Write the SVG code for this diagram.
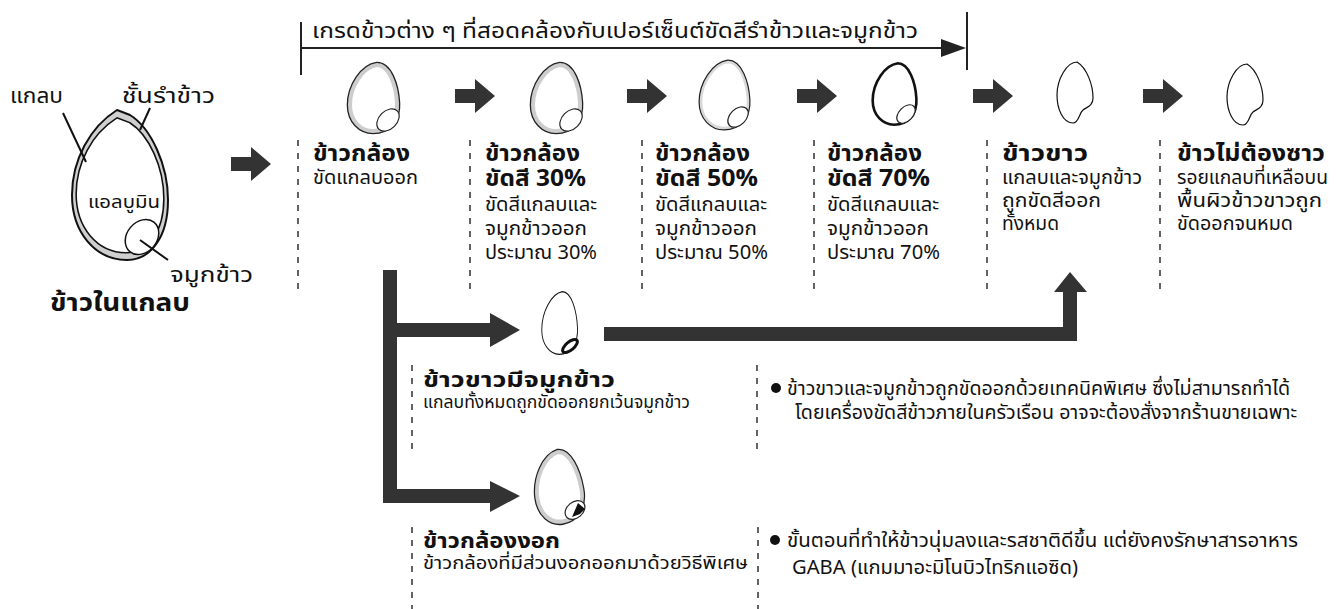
<svg xmlns="http://www.w3.org/2000/svg" width="1344" height="609" viewBox="0 0 1344 609">
  <style>
    text { font-family: "Leelawadee UI", "Noto Sans Thai", "Noto Sans", "DejaVu Sans", sans-serif; fill: #111; }
    .t { font-size: 19px; }
    .s { font-size: 17.5px; }
    .b { font-size: 23px; font-weight: bold; }
    .bs { font-size: 21px; font-weight: bold; }
    .lbl { font-size: 22px; }
    .dash { stroke: #222; stroke-width: 1.4; stroke-dasharray: 6 7; fill: none; }
    .blk { fill: #333; }
    .ringA { fill: none; stroke: #222; stroke-width: 6.6; }
    .ringB { fill: #fff; stroke: #cdcdcd; stroke-width: 4; }
    .germ { fill: #fff; stroke: #222; stroke-width: 1.2; }
    .thin { fill: #fff; stroke: #111; stroke-width: 1.2; }
  </style>
  <defs>
    <!-- egg-shaped grain outline, centred on the origin -->
    <path id="egg" d="M 3,-33 C -11,-31 -24,-12 -24,7 C -24,23 -13,33 -1,33 C 14,33 24,22 23,5 C 22,-13 15,-33 3,-33 Z"/>
    <!-- polished grain with the germ notch removed -->
    <path id="polished" d="M 2,-31 C 12,-25 18,-8 18,5 C 18,13 12,14 8,17 C 4,20 4,30 -2,30 C -12,30 -18,16 -18,2 C -18,-14 -8,-31 2,-31 Z"/>
    <!-- block arrow pointing right, tip at x=40 -->
    <path id="barrow" d="M 0,-7 L 20,-7 L 20,-17 L 40,0 L 20,17 L 20,7 L 0,7 Z"/>
    <!-- whole paddy outline -->
    <path id="husk" d="M 117,110 L 130,115 C 151,128 168,165 168,200 C 168,238 150,260 127,260 C 95,260 72,232 72,195 C 72,160 90,127 117,110 Z"/>
  </defs>

  <!-- grain in husk -->
  <g id="paddy">
    <use href="#husk" fill="#cfcfcf" stroke="#111" stroke-width="2"/>
    <use href="#husk" transform="translate(120,188) scale(0.87) translate(-120,-188)" fill="#fff" stroke="#111" stroke-width="6.6"/>
    <use href="#husk" transform="translate(120,188) scale(0.87) translate(-120,-188)" fill="#fff" stroke="#fff" stroke-width="3"/>
    <ellipse cx="142" cy="237" rx="15" ry="19" transform="rotate(40 142 237)" fill="#fff" stroke="#111" stroke-width="1.5"/>
    <line x1="63" y1="113" x2="86" y2="162" stroke="#111" stroke-width="2"/>
    <line x1="150" y1="108" x2="140" y2="130" stroke="#111" stroke-width="2"/>
    <line x1="140" y1="240" x2="168" y2="260" stroke="#111" stroke-width="2"/>
    <text class="lbl" x="10" y="103" textLength="53" lengthAdjust="spacingAndGlyphs">แกลบ</text>
    <text class="lbl" x="122" y="103" textLength="93" lengthAdjust="spacingAndGlyphs">ชั้นรำข้าว</text>
    <text x="88" y="208" font-size="17" textLength="72" lengthAdjust="spacingAndGlyphs">แอลบูมิน</text>
    <text class="lbl" x="170" y="282" textLength="83" lengthAdjust="spacingAndGlyphs">จมูกข้าว</text>
    <text x="50" y="311" font-size="25" font-weight="bold" textLength="140" lengthAdjust="spacingAndGlyphs">ข้าวในแกลบ</text>
  </g>

  <!-- grading scale bracket -->
  <g id="scale">
    <line x1="301" y1="22" x2="301" y2="75" stroke="#222" stroke-width="2"/>
    <line x1="967" y1="12" x2="967" y2="70" stroke="#222" stroke-width="2"/>
    <line x1="301" y1="48" x2="945" y2="48" stroke="#222" stroke-width="2"/>
    <path d="M 941,39 L 966,48 L 941,57 Z" fill="#222"/>
    <text x="312" y="38" font-size="21" textLength="606" lengthAdjust="spacingAndGlyphs">เกรดข้าวต่าง ๆ ที่สอดคล้องกับเปอร์เซ็นต์ขัดสีรำข้าวและจมูกข้าว</text>
  </g>

  <!-- connectors -->
  <g id="connectors">
    <use href="#barrow" class="blk" transform="translate(231,164)"/>
    <use href="#barrow" class="blk" transform="translate(455,96)"/>
    <use href="#barrow" class="blk" transform="translate(627,96)"/>
    <use href="#barrow" class="blk" transform="translate(797,96)"/>
    <use href="#barrow" class="blk" transform="translate(973,96)"/>
    <use href="#barrow" class="blk" transform="translate(1143,96)"/>
    <!-- branch from brown rice to the two special grades -->
    <path class="blk" d="M 383,270 L 397,270 L 397,323 L 490,323 L 490,313 L 520,330 L 490,347 L 490,337 L 397,337 L 397,489 L 490,489 L 490,481 L 520,496 L 490,512 L 490,503 L 383,503 Z"/>
    <!-- germinated white rice joins the white rice grade -->
    <path class="blk" d="M 604,327 L 1063,327 L 1063,292 L 1054,292 L 1070,272 L 1087,292 L 1077,292 L 1077,341 L 604,341 Z"/>
  </g>

  <!-- brown rice -->
  <g id="brown">
    <use href="#egg" class="ringA" transform="translate(374,98)"/>
    <use href="#egg" class="ringB" transform="translate(374,98)"/>
    <ellipse cx="388" cy="120" rx="9" ry="13" transform="rotate(45 388 120)" class="germ"/>
    <line class="dash" x1="298" y1="140" x2="298" y2="292"/>
    <text class="b" x="313" y="161" textLength="97" lengthAdjust="spacingAndGlyphs">ข้าวกล้อง</text>
    <text class="t" x="313" y="184" textLength="105" lengthAdjust="spacingAndGlyphs">ขัดแกลบออก</text>
  </g>

  <!-- 30% milled -->
  <g id="milled30">
    <use href="#egg" class="ringA" transform="translate(557,98)"/>
    <use href="#egg" class="ringB" transform="translate(557,98)"/>
    <ellipse cx="571" cy="120" rx="9" ry="13" transform="rotate(45 571 120)" class="germ"/>
    <line class="dash" x1="470" y1="140" x2="470" y2="292"/>
    <text class="b" x="485" y="161" textLength="95" lengthAdjust="spacingAndGlyphs">ข้าวกล้อง</text>
    <text class="b" x="485" y="186" textLength="101" lengthAdjust="spacingAndGlyphs">ขัดสี 30%</text>
    <text class="t" x="485" y="211" textLength="112" lengthAdjust="spacingAndGlyphs">ขัดสีแกลบและ</text>
    <text class="t" x="485" y="235" textLength="102" lengthAdjust="spacingAndGlyphs">จมูกข้าวออก</text>
    <text class="t" x="485" y="259" textLength="112" lengthAdjust="spacingAndGlyphs">ประมาณ 30%</text>
  </g>

  <!-- 50% milled -->
  <g id="milled50">
    <use href="#egg" transform="translate(725,95)" fill="none" stroke="#222" stroke-width="5"/>
    <use href="#egg" transform="translate(725,95)" fill="#fff" stroke="#d8d8d8" stroke-width="2.6"/>
    <ellipse cx="738" cy="117" rx="8" ry="12" transform="rotate(45 738 117)" class="germ"/>
    <line class="dash" x1="642" y1="140" x2="642" y2="292"/>
    <text class="b" x="655" y="161" textLength="95" lengthAdjust="spacingAndGlyphs">ข้าวกล้อง</text>
    <text class="b" x="655" y="186" textLength="103" lengthAdjust="spacingAndGlyphs">ขัดสี 50%</text>
    <text class="t" x="655" y="211" textLength="112" lengthAdjust="spacingAndGlyphs">ขัดสีแกลบและ</text>
    <text class="t" x="655" y="235" textLength="102" lengthAdjust="spacingAndGlyphs">จมูกข้าวออก</text>
    <text class="t" x="655" y="259" textLength="113" lengthAdjust="spacingAndGlyphs">ประมาณ 50%</text>
  </g>

  <!-- 70% milled -->
  <g id="milled70">
    <use href="#egg" transform="translate(895,94) scale(0.93)" fill="#fff" stroke="#111" stroke-width="2.8"/>
    <ellipse cx="906" cy="114" rx="7" ry="11" transform="rotate(45 906 114)" class="germ"/>
    <line class="dash" x1="814" y1="140" x2="814" y2="292"/>
    <text class="b" x="827" y="161" textLength="95" lengthAdjust="spacingAndGlyphs">ข้าวกล้อง</text>
    <text class="b" x="827" y="186" textLength="103" lengthAdjust="spacingAndGlyphs">ขัดสี 70%</text>
    <text class="t" x="827" y="211" textLength="112" lengthAdjust="spacingAndGlyphs">ขัดสีแกลบและ</text>
    <text class="t" x="827" y="235" textLength="102" lengthAdjust="spacingAndGlyphs">จมูกข้าวออก</text>
    <text class="t" x="827" y="259" textLength="113" lengthAdjust="spacingAndGlyphs">ประมาณ 70%</text>
  </g>

  <!-- white rice -->
  <g id="white">
    <use href="#polished" class="thin" transform="translate(1075,93)"/>
    <line class="dash" x1="987" y1="140" x2="987" y2="292"/>
    <text class="b" x="1002" y="161" textLength="86" lengthAdjust="spacingAndGlyphs">ข้าวขาว</text>
    <text class="t" x="1002" y="184" textLength="140" lengthAdjust="spacingAndGlyphs">แกลบและจมูกข้าว</text>
    <text class="t" x="1002" y="207" textLength="99" lengthAdjust="spacingAndGlyphs">ถูกขัดสีออก</text>
    <text class="t" x="1002" y="230" textLength="57" lengthAdjust="spacingAndGlyphs">ทั้งหมด</text>
  </g>

  <!-- wash-free rice -->
  <g id="washfree">
    <use href="#polished" class="thin" transform="translate(1245,95)"/>
    <line class="dash" x1="1160" y1="140" x2="1160" y2="292"/>
    <text class="b" x="1177" y="161" textLength="148" lengthAdjust="spacingAndGlyphs">ข้าวไม่ต้องซาว</text>
    <text class="t" x="1177" y="184" textLength="151" lengthAdjust="spacingAndGlyphs">รอยแกลบที่เหลือบน</text>
    <text class="t" x="1177" y="207" textLength="145" lengthAdjust="spacingAndGlyphs">พื้นผิวข้าวขาวถูก</text>
    <text class="t" x="1177" y="230" textLength="116" lengthAdjust="spacingAndGlyphs">ขัดออกจนหมด</text>
  </g>

  <!-- white rice keeping the germ -->
  <g id="germrice">
    <use href="#egg" class="thin" transform="translate(560,323) scale(0.76 0.95)"/>
    <ellipse cx="570" cy="346" rx="9" ry="4" transform="rotate(-40 570 346)" fill="#fff" stroke="#111" stroke-width="3"/>
    <line class="dash" x1="412" y1="365" x2="412" y2="450"/>
    <text class="bs" x="423" y="387" textLength="192" lengthAdjust="spacingAndGlyphs">ข้าวขาวมีจมูกข้าว</text>
    <text class="s" x="423" y="408" textLength="267" lengthAdjust="spacingAndGlyphs">แกลบทั้งหมดถูกขัดออกยกเว้นจมูกข้าว</text>
    <line class="dash" x1="757" y1="365" x2="757" y2="450"/>
    <circle cx="776" cy="388" r="5" fill="#111"/>
    <text class="t" x="787" y="395" textLength="503" lengthAdjust="spacingAndGlyphs">ข้าวขาวและจมูกข้าวถูกขัดออกด้วยเทคนิคพิเศษ ซึ่งไม่สามารถทำได้</text>
    <text class="t" x="795" y="419" textLength="502" lengthAdjust="spacingAndGlyphs">โดยเครื่องขัดสีข้าวภายในครัวเรือน อาจจะต้องสั่งจากร้านขายเฉพาะ</text>
  </g>

  <!-- germinated brown rice -->
  <g id="gaba">
    <use href="#egg" class="ringA" transform="translate(559,487) scale(0.95 1.05) rotate(-8)"/>
    <use href="#egg" class="ringB" transform="translate(559,487) scale(0.95 1.05) rotate(-8)"/>
    <ellipse cx="575" cy="510" rx="8" ry="11" transform="rotate(50 575 510)" class="germ"/>
    <path d="M 578,503 L 585,509 L 580,514 L 572,517 Z" fill="#111"/>
    <line class="dash" x1="412" y1="527" x2="412" y2="609"/>
    <text class="bs" x="423" y="548" textLength="137" lengthAdjust="spacingAndGlyphs">ข้าวกล้องงอก</text>
    <text class="s" x="423" y="569" textLength="325" lengthAdjust="spacingAndGlyphs">ข้าวกล้องที่มีส่วนงอกออกมาด้วยวิธีพิเศษ</text>
    <line class="dash" x1="758" y1="527" x2="758" y2="609"/>
    <circle cx="775" cy="540" r="5" fill="#111"/>
    <text class="t" x="787" y="547" textLength="511" lengthAdjust="spacingAndGlyphs">ขั้นตอนที่ทำให้ข้าวนุ่มลงและรสชาติดีขึ้น แต่ยังคงรักษาสารอาหาร</text>
    <text class="t" x="792" y="574" textLength="286" lengthAdjust="spacingAndGlyphs">GABA (แกมมาอะมิโนบิวไทริกแอซิด)</text>
  </g>
</svg>
